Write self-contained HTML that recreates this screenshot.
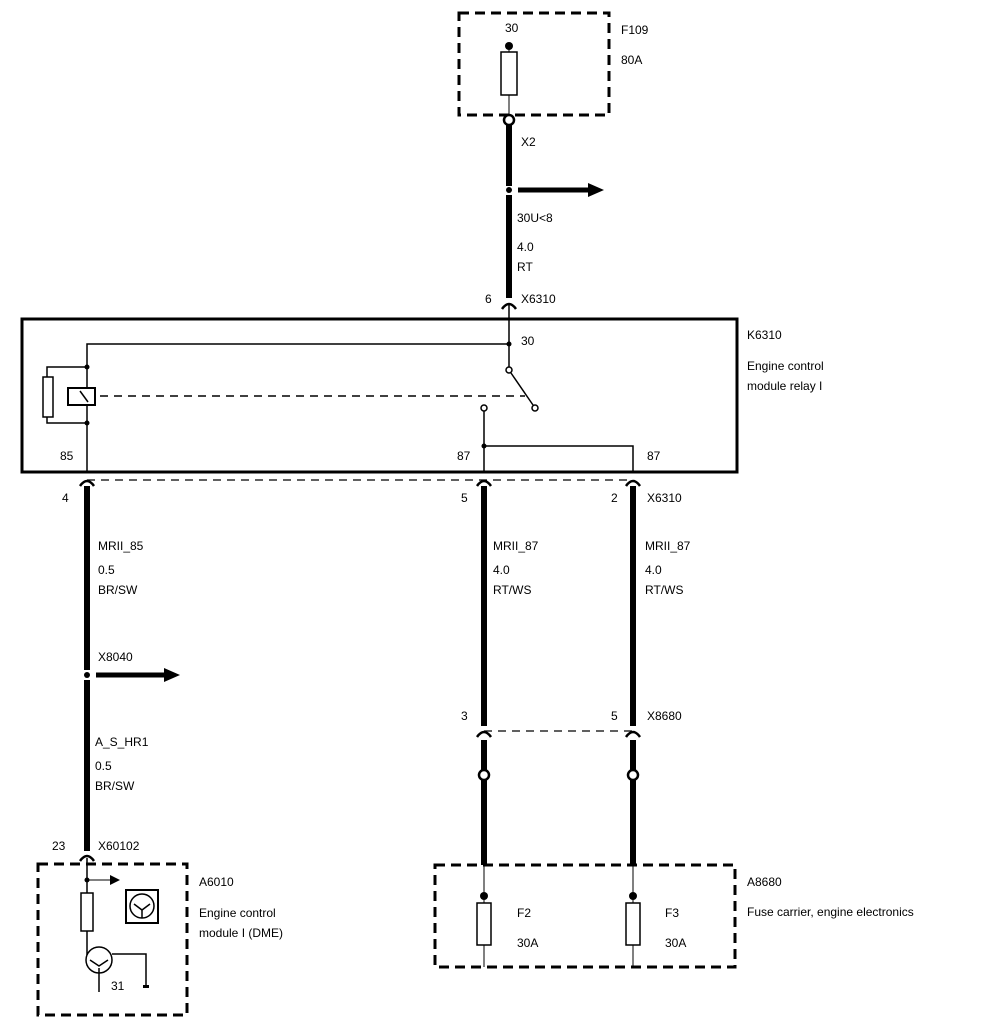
<!DOCTYPE html>
<html><head><style>
html,body{margin:0;padding:0;background:#fff}
svg{display:block}
text{font-family:"Liberation Sans",Arial,sans-serif;font-size:12px;fill:#000}
</style></head><body>
<svg width="992" height="1036" viewBox="0 0 992 1036" xmlns="http://www.w3.org/2000/svg">
<defs>
<marker id="ah" markerWidth="10" markerHeight="10" refX="1" refY="5" orient="auto" markerUnits="userSpaceOnUse"><path d="M0,0 L10,5 L0,10 z" fill="#000"/></marker>
</defs>
<g fill="none" stroke="#000">
<!-- F109 -->
<rect x="459" y="13" width="150" height="102" stroke-width="3" stroke-dasharray="10,6"/>
<line x1="509" y1="46" x2="509" y2="115" stroke-width="1"/>
<rect x="501" y="52" width="16" height="43" fill="#fff" stroke-width="1.5"/>
<line x1="509" y1="125" x2="509" y2="186" stroke-width="6"/>
<line x1="509" y1="195" x2="509" y2="298" stroke-width="6"/>
<line x1="518" y1="190" x2="590" y2="190" stroke-width="5"/>
<!-- K6310 -->
<rect x="22" y="319" width="715" height="153" stroke-width="3"/>
<path d="M509,304 V370 M509,344 H87 V472" stroke-width="1.5"/>
<path d="M87,367 H47 V423 H87" stroke-width="1.5"/>
<rect x="43" y="377" width="10" height="40" fill="#fff" stroke-width="1.5"/>
<rect x="68" y="388" width="27" height="17" fill="#fff" stroke-width="2"/>
<line x1="80" y1="391" x2="88" y2="402" stroke-width="1.5"/>
<line x1="100" y1="396" x2="525" y2="396" stroke-width="1.5" stroke-dasharray="8,6"/>
<line x1="511" y1="373" x2="533" y2="405" stroke-width="1.5"/>
<path d="M484,411 V472 M484,446 H633 V472" stroke-width="1.5"/>
<line x1="87" y1="480" x2="633" y2="480" stroke-width="1.2" stroke-dasharray="8,6"/>
<!-- wires -->
<line x1="87" y1="486" x2="87" y2="670" stroke-width="6"/>
<line x1="87" y1="680" x2="87" y2="851" stroke-width="6"/>
<line x1="96" y1="675" x2="168" y2="675" stroke-width="5"/>
<line x1="484" y1="486" x2="484" y2="726" stroke-width="6"/>
<line x1="633" y1="486" x2="633" y2="726" stroke-width="6"/>
<line x1="484" y1="740" x2="484" y2="865" stroke-width="6"/>
<line x1="633" y1="740" x2="633" y2="865" stroke-width="6"/>
<line x1="484" y1="731" x2="633" y2="731" stroke-width="1.2" stroke-dasharray="8,6"/>
<!-- A6010 -->
<rect x="38" y="864" width="149" height="151" stroke-width="3" stroke-dasharray="10,6"/>
<path d="M87,858 V955" stroke-width="1.5"/>
<line x1="87" y1="880" x2="112" y2="880" stroke-width="1"/>
<rect x="81" y="893" width="12" height="38" fill="#fff" stroke-width="1.5"/>
<circle cx="99" cy="960" r="13" stroke-width="1.5"/>
<path d="M99,968 V992 M112,954 H146 V988" stroke-width="1.5"/>
<path d="M90,960 L99,966 L108,960" stroke-width="1.5"/>
<rect x="126" y="890" width="32" height="33" stroke-width="2"/>
<circle cx="142" cy="906" r="12" stroke-width="1.5"/>
<path d="M142,910 V918 M134,904 L142,910 L150,904" stroke-width="1.5"/>
<!-- A8680 -->
<rect x="435" y="865" width="300" height="102" stroke-width="3" stroke-dasharray="10,6"/>
<line x1="484" y1="865" x2="484" y2="967" stroke-width="1"/>
<line x1="633" y1="865" x2="633" y2="967" stroke-width="1"/>
<rect x="477" y="903" width="14" height="42" fill="#fff" stroke-width="1.5"/>
<rect x="626" y="903" width="14" height="42" fill="#fff" stroke-width="1.5"/>
<!-- connector arches -->
<path d="M502,309 Q509,299 516,309" stroke-width="2.5"/>
<path d="M80,486 Q87,476 94,486" stroke-width="2.5"/>
<path d="M477,486 Q484,476 491,486" stroke-width="2.5"/>
<path d="M626,486 Q633,476 640,486" stroke-width="2.5"/>
<path d="M477,737 Q484,727 491,737" stroke-width="2.5"/>
<path d="M626,737 Q633,727 640,737" stroke-width="2.5"/>
<path d="M80,861 Q87,851 94,861" stroke-width="2.5"/>
<!-- open circles -->
<circle cx="509" cy="120" r="5" fill="#fff" stroke-width="2.5"/>
<circle cx="484" cy="775" r="5" fill="#fff" stroke-width="2.5"/>
<circle cx="633" cy="775" r="5" fill="#fff" stroke-width="2.5"/>
<circle cx="509" cy="370" r="3" fill="#fff" stroke-width="1.5"/>
<circle cx="535" cy="408" r="3" fill="#fff" stroke-width="1.5"/>
<circle cx="484" cy="408" r="3" fill="#fff" stroke-width="1.5"/>
</g>
<g fill="#000">
<circle cx="509" cy="46" r="4"/>
<circle cx="484" cy="896" r="4"/>
<circle cx="633" cy="896" r="4"/>
<circle cx="509" cy="190" r="3"/>
<circle cx="87" cy="675" r="3"/>
<circle cx="509" cy="344" r="2.5"/>
<circle cx="87" cy="367" r="2.5"/>
<circle cx="87" cy="423" r="2.5"/>
<circle cx="484" cy="446" r="2.5"/>
<circle cx="87" cy="880" r="2.5"/>
<path d="M588,183 L604,190 L588,197 z"/>
<path d="M164,668 L180,675 L164,682 z"/>
<path d="M110,875 L120,880 L110,885 z"/>
<path d="M143,988 h6 v-3 h-6 z"/>
</g>
<text x="505" y="32">30</text>
<text x="621" y="34">F109</text>
<text x="621" y="64">80A</text>
<text x="521" y="146">X2</text>
<text x="517" y="222">30U&lt;8</text>
<text x="517" y="251">4.0</text>
<text x="517" y="271">RT</text>
<text x="485" y="303">6</text>
<text x="521" y="303">X6310</text>
<text x="521" y="345">30</text>
<text x="747" y="339">K6310</text>
<text x="747" y="370">Engine control</text>
<text x="747" y="390">module relay I</text>
<text x="60" y="460">85</text>
<text x="457" y="460">87</text>
<text x="647" y="460">87</text>
<text x="62" y="502">4</text>
<text x="461" y="502">5</text>
<text x="611" y="502">2</text>
<text x="647" y="502">X6310</text>
<text x="98" y="550">MRII_85</text>
<text x="98" y="574">0.5</text>
<text x="98" y="594">BR/SW</text>
<text x="493" y="550">MRII_87</text>
<text x="493" y="574">4.0</text>
<text x="493" y="594">RT/WS</text>
<text x="645" y="550">MRII_87</text>
<text x="645" y="574">4.0</text>
<text x="645" y="594">RT/WS</text>
<text x="98" y="661">X8040</text>
<text x="461" y="720">3</text>
<text x="611" y="720">5</text>
<text x="647" y="720">X8680</text>
<text x="95" y="746">A_S_HR1</text>
<text x="95" y="770">0.5</text>
<text x="95" y="790">BR/SW</text>
<text x="52" y="850">23</text>
<text x="98" y="850">X60102</text>
<text x="199" y="886">A6010</text>
<text x="199" y="917">Engine control</text>
<text x="199" y="937">module I (DME)</text>
<text x="111" y="990">31</text>
<text x="517" y="917">F2</text>
<text x="517" y="947">30A</text>
<text x="665" y="917">F3</text>
<text x="665" y="947">30A</text>
<text x="747" y="886">A8680</text>
<text x="747" y="916">Fuse carrier, engine electronics</text>
</svg>
</body></html>
